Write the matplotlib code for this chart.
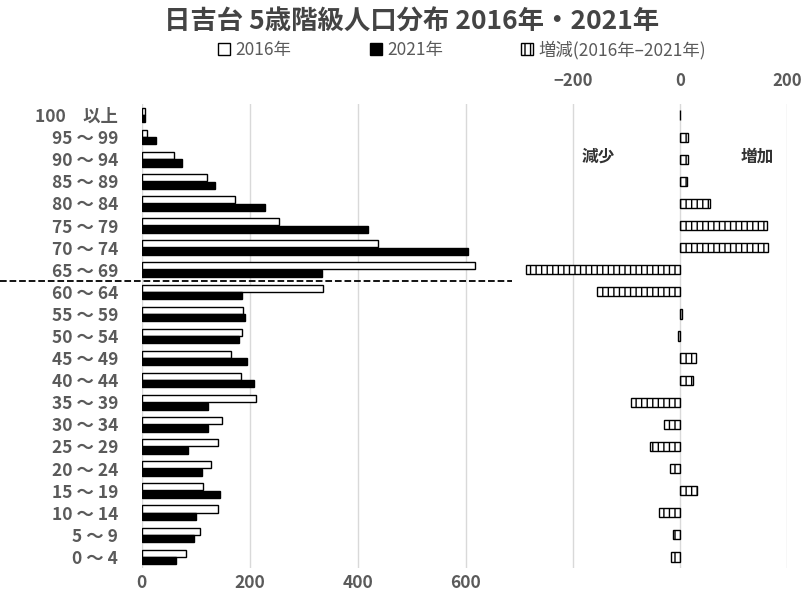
import matplotlib
matplotlib.use("Agg")
import matplotlib.pyplot as plt
import numpy as np

plt.rcParams['font.family'] = ['Noto Sans CJK JP', 'DejaVu Sans']

# データ
ages = ["0 ～ 4", "5 ～ 9", "10 ～ 14", "15 ～ 19", "20 ～ 24", "25 ～ 29", "30 ～ 34",
        "35 ～ 39", "40 ～ 44", "45 ～ 49", "50 ～ 54", "55 ～ 59", "60 ～ 64", "65 ～ 69",
        "70 ～ 74", "75 ～ 79", "80 ～ 84", "85 ～ 89", "90 ～ 94", "95 ～ 99", "100　以上"]
pop_2016 = [83, 108, 142, 114, 128, 142, 148, 212, 184, 165, 185, 188, 336, 617,
            438, 255, 172, 121, 59, 9, 6]
pop_2021 = [63, 97, 101, 145, 111, 85, 122, 122, 208, 196, 181, 192, 186, 334,
            605, 419, 229, 135, 74, 26, 6]
diff = [-17, -13, -40, 31, -19, -56, -29, -92, 25, 29, -3, 4, -155, -288,
        165, 162, 57, 14, 15, 15, 0]

left_ticks = [0, 200, 400, 600]
right_ticks = [-200, 0, 200]

W, H = 808, 595
fig = plt.figure(figsize=(W / 100, H / 100), dpi=100)

def px(x0, y0, x1, y1):
    return [x0 / W, 1 - y1 / H, (x1 - x0) / W, (y1 - y0) / H]

ax1 = fig.add_axes(px(141.7, 104, 519.5, 568))
ax2 = fig.add_axes(px(519.5, 104, 787, 568))

y = np.arange(len(ages))
grid_c = "#d9d9d9"
txt_c = "#5a5a5a"

# 左: 人口
ax1.barh(y + 0.17, pop_2016, height=0.32, color="white", edgecolor="black", lw=1.0,
         label="2016年", zorder=3)
ax1.barh(y - 0.17, pop_2021, height=0.32, color="black", edgecolor="black", lw=1.0,
         label="2021年", zorder=3)
ax1.set_xlim(0, 700)
ax1.set_ylim(-0.5, len(ages) - 0.5)
ax1.set_xticks(left_ticks)
ax1.set_yticks(y)
ax1.set_yticklabels(ages)
ax1.tick_params(length=0, labelsize=12.5, labelcolor=txt_c)
ax1.tick_params(axis="y", pad=17)
ax1.tick_params(axis="x", pad=4)
for lab in ax1.get_xticklabels() + ax1.get_yticklabels():
    lab.set_fontweight("bold")
ax1.grid(axis="x", color=grid_c, lw=1.0, zorder=0)
for s in ax1.spines.values():
    s.set_visible(False)

# 右: 増減
plt.rcParams['hatch.linewidth'] = 1.0
ax2.barh(y, diff, height=0.42, color="white", edgecolor="black", hatch="|||", lw=1.0,
         label="増減(2016年–2021年)", zorder=3)
ax2.set_xlim(-300, 200)
ax2.set_ylim(-0.5, len(ages) - 0.5)
ax2.set_xticks(right_ticks)
ax2.set_yticks([])
ax2.xaxis.tick_top()
ax2.tick_params(length=0, labelsize=12, labelcolor=txt_c, pad=10)
for lab in ax2.get_xticklabels():
    lab.set_fontweight("bold")
ax2.grid(axis="x", color=grid_c, lw=1.0, zorder=0)
for s in ax2.spines.values():
    s.set_visible(False)

# 65歳の境界線
ax1.plot([-263, 687], [12.5, 12.5], color="black", ls="--", lw=1.3, clip_on=False, zorder=4)

fig.text(598 / W, 1 - 157 / H, "減少", fontsize=12, color="#333333", fontweight="bold",
         ha="center", va="center")
fig.text(757 / W, 1 - 157 / H, "増加", fontsize=12, color="#333333", fontweight="bold",
         ha="center", va="center")

fig.text(412 / W, 1 - 22 / H, "日吉台 5歳階級人口分布 2016年・2021年", fontsize=19,
         color="#444444", fontweight="bold", ha="center", va="center")

h1, l1 = ax1.get_legend_handles_labels()
h2, l2 = ax2.get_legend_handles_labels()
fig.legend(h1 + h2, l1 + l2, loc="center", bbox_to_anchor=(462 / W, 1 - 50 / H), ncol=3,
           frameon=False, fontsize=12.5, handlelength=0.7, handleheight=0.7,
           handletextpad=0.3, columnspacing=4.5, labelcolor=txt_c)

fig.savefig("out.png", dpi=100)
